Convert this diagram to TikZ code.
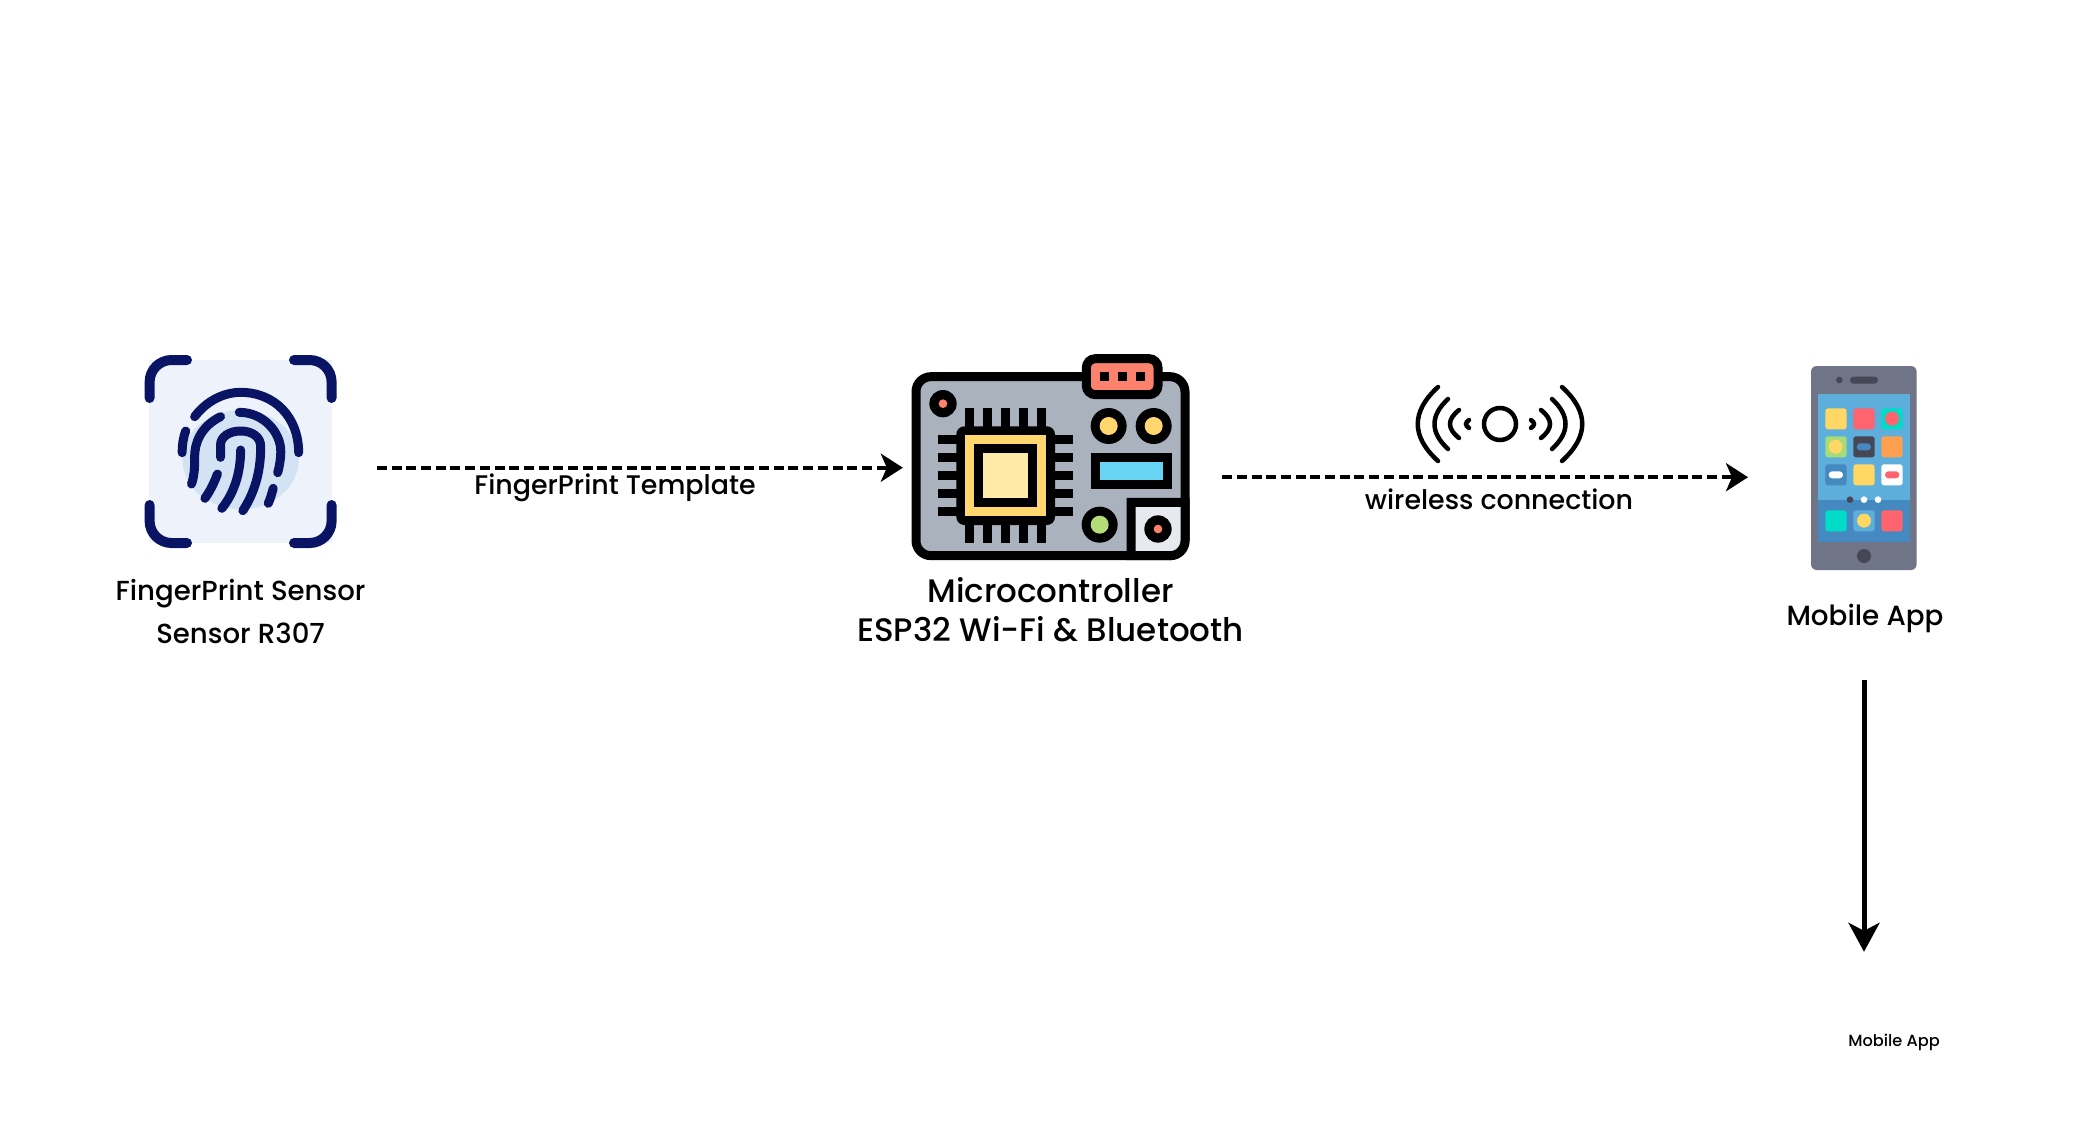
\documentclass[tikz,border=0pt]{standalone}
\usepackage{fontspec}
\setmainfont{Poppins}[UprightFont=* Medium]
\usetikzlibrary{arrows.meta}
\def\px{0.569pt}
\definecolor{ridge}{HTML}{0A1464}
\definecolor{scanbg}{HTML}{EEF2FA}
\definecolor{blob}{HTML}{D3E3F3}
\definecolor{pcb}{HTML}{AAB2BD}
\definecolor{salmon}{HTML}{FC826E}
\definecolor{gold}{HTML}{FFD76E}
\definecolor{cream}{HTML}{FFEAA7}
\definecolor{sky}{HTML}{66D4F2}
\definecolor{leaf}{HTML}{B4DC78}
\definecolor{pale}{HTML}{E6E9ED}
\definecolor{case}{HTML}{707487}
\definecolor{dark}{HTML}{464655}
\definecolor{screen}{HTML}{5EAEDC}
\definecolor{dock}{HTML}{4489BF}
\definecolor{teal}{HTML}{00DCC8}
\definecolor{tilered}{HTML}{FF646E}
\definecolor{tileyellow}{HTML}{FFD764}
\definecolor{tilegreen}{HTML}{A5DC78}
\definecolor{tileorange}{HTML}{FF9F50}
\tikzset{
  icon/.style={inner sep=0pt, outer sep=0pt},
  label/.style={inner sep=0pt, align=center},
  link/.style={dashed, dash pattern=on 10*\px off 4.7*\px, line width=4*\px, -{Stealth[length=22*\px, width=28*\px, inset=6*\px]}},
  bracket/.style={ridge, line width=10*\px, line cap=round, rounded corners=22*\px},
  whorl/.style={ridge, line width=9*\px, line cap=round},
  pcbline/.style={line width=9*\px},
  wave/.style={line width=4.5*\px, line cap=round},
  tile/.style={rounded corners=2.7*\px},
  pill/.style={rounded corners=3.4*\px},
}
\begin{document}
\begin{tikzpicture}[x=0.02cm, y=-0.02cm]
\useasboundingbox (0,0) rectangle (2100,1120);

\node[icon, minimum width=192*\px, minimum height=193*\px] (sensor) at (240.6,451.5) {};
\node[icon, minimum width=278*\px, minimum height=188*\px] (board) at (1050.5,466) {};
\node[icon, minimum width=106*\px, minimum height=204*\px] (phone) at (1864,468) {};
\node[icon, minimum width=167*\px, minimum height=80*\px] (radio) at (1500,424) {};

\fill[scanbg] (149,360) rectangle (332,543);
\draw[bracket] (149.6,398) |- (187,360);
\draw[bracket] (331.6,398) |- (294,360);
\draw[bracket] (149.6,505) |- (187,543);
\draw[bracket] (331.6,505) |- (294,543);

\begin{scope}[shift={(100,320)}, xscale=1/2.24, yscale=1/3]
  \fill[blob] (315,419) ellipse (130 and 149);
  \draw[whorl] (212,290) .. controls (240,240) and (280,217) .. (315,217) .. controls (390,217) and (445,290) .. (445,398);
  \draw[whorl] (192,333) .. controls (186,355) and (184,375) .. (184,398);
  \draw[whorl] (270,290) .. controls (225,320) and (212,370) .. (212,410) .. controls (212,440) and (212,465) .. (205,492);
  \draw[whorl] (312,277) .. controls (365,277) and (405,335) .. (405,395) .. controls (405,415) and (402,440) .. (398,458);
  \draw[whorl] (270,412) -- (270,375) .. controls (270,350) and (290,333) .. (315,333) .. controls (340,333) and (360,350) .. (360,380) .. controls (360,460) and (345,520) .. (320,572);
  \draw[whorl] (315,390) .. controls (315,460) and (300,520) .. (273,565);
  \draw[whorl] (263,462) .. controls (255,490) and (248,510) .. (235,535);
  \draw[whorl] (388,505) .. controls (385,520) and (382,535) .. (377,550);
\end{scope}

\begin{scope}[shift={(840,330)}, scale=1/3]
  \filldraw[fill=pcb, pcbline, rounded corners=15*\px] (228,140) rectangle (1035,677);
  \filldraw[fill=pale, pcbline] (873,677) -- (873,517) -- (1035,517) [rounded corners=15*\px] -- (1035,677) [sharp corners] -- cycle;
  \filldraw[fill=salmon, pcbline, rounded corners=9*\px] (739,86) rectangle (954,194);
  \foreach \x in {780,834,888}
    \fill (\x,127) rectangle (\x+27,154);
  \foreach \x in {389,443,497,551,605}
    \fill (\x-13.5,235) rectangle (\x+13.5,639);
  \foreach \y in {329,383,437,491,545}
    \fill (295,\y-13.5) rectangle (699,\y+13.5);
  \fill[rounded corners=8*\px] (349,289) rectangle (645,585);
  \fill[gold] (376,316) rectangle (618,558);
  \fill (403,343) rectangle (591,531);
  \fill[cream] (430,370) rectangle (564,504);
  \foreach \x/\y/\o/\r/\c in {309/221/41/13/salmon, 954/597/41/13/salmon, 806/288/54/27/gold, 941/288/54/27/gold, 779/584/54/27/leaf} {
    \fill (\x,\y) circle (\o);
    \fill[\c] (\x,\y) circle (\r);
  }
  \fill (752,369) rectangle (995,477);
  \fill[sky] (779,396) rectangle (968,450);
\end{scope}

\draw[wave] (radio) circle (16);
\foreach \s in {1,-1}
  \foreach \dx/\dy/\cx in {62/37/89, 52/25/70, 41/14/53, 31/4/35}
    \draw[wave, shift={(radio.center)}] (\s*\dx,-\dy) .. controls (\s*\cx,-\dy/3) and (\s*\cx,\dy/3) .. (\s*\dx,\dy);

\begin{scope}[shift={(1760,350)}, scale=1/3]
  \fill[case, rounded corners=5.7*\px] (153,48) rectangle (470,660);
  \fill[dark] (238,90) circle (10);
  \fill[dark, pill] (270,80) rectangle (354,101);
  \fill[screen] (174,132) rectangle (450,450);
  \fill[dock] (174,450) rectangle (450,576);
  \fill[dark] (312,618) circle (21);
  \foreach \x/\y/\c in {196/175/tileyellow, 280/175/tilered, 364/175/teal,
                        196/259/tilegreen, 280/259/dark, 364/259/tileorange,
                        196/343/dock, 280/343/tileyellow, 364/343/white,
                        196/481/teal, 280/481/screen, 364/481/tilered}
    \fill[\c, tile] (\x,\y) rectangle (\x+64,\y+63);
  \foreach \x/\y/\c in {396/206/tilered, 227/290/tileyellow, 312/512/tileyellow}
    \fill[\c] (\x,\y) circle (21);
  \foreach \x/\y/\c in {290/280/dock, 206/364/white, 375/364/tilered}
    \fill[\c, pill] (\x,\y) rectangle (\x+43,\y+21);
  \foreach \x/\c in {270/dark, 312/white, 354/white}
    \fill[\c] (\x,449) circle (10);
\end{scope}

\node[label, font=\fontsize{15.7}{25}\selectfont] (sensor label) at (240.6,611.5) {FingerPrint Sensor\\Sensor R307};
\node[label, font=\fontsize{18.5}{22.2}\selectfont] (board label) at (1050.5,610) {Microcontroller\\ESP32 Wi-Fi \& Bluetooth};
\node[label, font=\fontsize{15.8}{18}\selectfont] (phone label) at (1865,618.5) {Mobile App};
\node[label, font=\fontsize{9.2}{10}\selectfont] (app label) at (1894,1042) {Mobile App};
\node[label, font=\fontsize{15.3}{16}\selectfont] (template label) at (615,488) {FingerPrint Template};
\node[label, font=\fontsize{15.3}{16}\selectfont] (wireless label) at (1499,499.5) {wireless connection};

\draw[link] ([shift={(40.4,16.2)}]sensor.east) -- ([shift={(-8.7,1.7)}]board.west);
\draw[link] ([shift={(32.7,11.2)}]board.east) -- ([shift={(-63,9.2)}]phone.west);
\draw[line width=5*\px, -{Stealth[length=29*\px, width=31*\px, inset=8*\px]}] ([yshift=-110*\px]phone.south) -- ([shift={(-30,-81.5)}]app label.north);
\end{tikzpicture}
\end{document}
